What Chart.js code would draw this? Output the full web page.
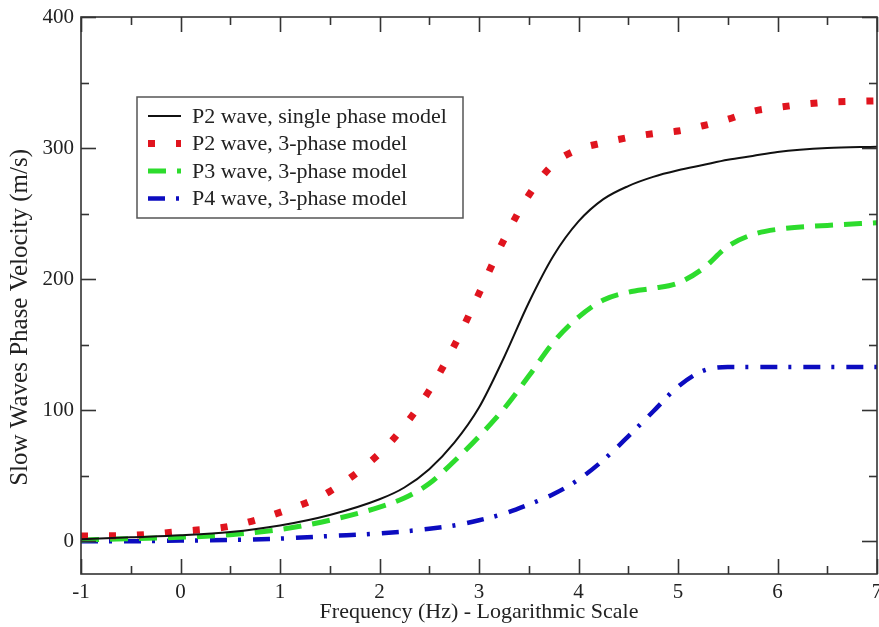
<!DOCTYPE html>
<html>
<head>
<meta charset="utf-8">
<script src="https://cdn.jsdelivr.net/npm/chart.js@4.4.0/dist/chart.umd.min.js"></script>
<style>
  html, body { margin: 0; padding: 0; background: #fff; }
  #wrap { width: 879px; height: 627px; }
</style>
</head>
<body>
<div id="wrap"><canvas id="chartCanvas" width="879" height="627"></canvas></div>
<script>
// frequency grid (log10 Hz) shared by all series
const freq = [-1, -0.5, 0, 0.5, 1, 1.5, 2, 2.25, 2.5, 2.75, 3, 3.25, 3.5, 3.75, 4, 4.25, 4.5, 4.75, 5, 5.25, 5.5, 5.75, 6, 6.5, 7];

// phase velocity (m/s)
const p2Single = [1.5, 3, 4.5, 7, 12, 20, 32, 41, 55, 75, 102, 140, 182, 218, 244, 261, 271, 278, 283, 287, 291, 294, 297, 300, 301];
const p2Three  = [4, 4.5, 7.5, 11.5, 22, 38, 67, 88, 115, 149, 189, 230, 264, 288, 299, 304, 308, 311, 313, 317, 322, 328, 331, 335, 336];
const p3Three  = [1, 2, 3, 5, 9, 16, 26, 33, 44, 61, 80, 101, 126, 152, 171, 184, 190, 193, 197, 208, 225, 234, 238, 241, 243];
const p4Three  = [0, 0, 0.5, 1, 2, 4, 6, 7.5, 9.5, 12, 16, 21, 28, 36, 47, 62, 80, 99, 118, 130, 133, 133, 133, 133, 133];

const seriesNames = ['P2 wave, single phase model', 'P2 wave, 3-phase model', 'P3 wave, 3-phase model', 'P4 wave, 3-phase model'];

function toPoints(vals) {
  return freq.map((f, i) => ({ x: f, y: vals[i] }));
}

const serif = "'Liberation Serif', 'Times New Roman', serif";

// box with inward ticks on all four sides (xmgrace style)
const frameTicks = {
  id: 'frameTicks',
  afterDraw(chart) {
    const { ctx, chartArea: a, scales: { x, y } } = chart;
    ctx.save();
    ctx.strokeStyle = '#333';
    ctx.lineWidth = 1.6;
    const seg = (x1, y1, x2, y2) => {
      ctx.beginPath();
      ctx.moveTo(x1, y1);
      ctx.lineTo(x2, y2);
      ctx.stroke();
    };
    for (let v = x.min; v <= x.max + 1e-9; v += 0.5) {
      const px = Math.round(x.getPixelForValue(v)) + 0.5;
      const len = Number.isInteger(v) ? 15 : 8;
      seg(px, a.bottom, px, a.bottom - len);
      seg(px, a.top, px, a.top + len);
    }
    for (let v = 0; v <= y.max + 1e-9; v += 50) {
      const py = Math.round(y.getPixelForValue(v)) + 0.5;
      const len = v % 100 === 0 ? 15 : 8;
      seg(a.left, py, a.left + len, py);
      seg(a.right, py, a.right - len, py);
    }
    ctx.strokeRect(a.left, a.top, a.right - a.left, a.bottom - a.top);
    ctx.restore();
  }
};

// legend box drawn inside the plot, upper left
const boxLegend = {
  id: 'boxLegend',
  afterDatasetsDraw(chart) {
    const ctx = chart.ctx;
    const bx = 137, by = 97, bw = 326, bh = 121;
    ctx.save();
    ctx.fillStyle = '#fff';
    ctx.fillRect(bx, by, bw, bh);
    ctx.strokeStyle = '#555';
    ctx.lineWidth = 1.5;
    ctx.strokeRect(bx, by, bw, bh);
    ctx.font = '22px ' + serif;
    ctx.textBaseline = 'middle';
    chart.data.datasets.forEach((ds, i) => {
      const ry = 116 + i * 27.5;
      ctx.save();
      ctx.strokeStyle = ds.borderColor;
      ctx.lineWidth = ds.borderWidth;
      ctx.setLineDash(ds.borderDash || []);
      ctx.lineCap = 'butt';
      ctx.beginPath();
      ctx.moveTo(148, ry);
      ctx.lineTo(181, ry);
      ctx.stroke();
      ctx.restore();
      ctx.fillStyle = '#222';
      ctx.fillText(ds.label, 192, ry + 1);
    });
    ctx.restore();
  }
};

const ctx = document.getElementById('chartCanvas').getContext('2d');
const chart = new Chart(ctx, {
  type: 'line',
  data: {
    datasets: [
      {
        label: seriesNames[0],
        data: toPoints(p2Single),
        borderColor: '#111',
        borderWidth: 2,
        cubicInterpolationMode: 'monotone',
        pointRadius: 0
      },
      {
        label: seriesNames[1],
        data: toPoints(p2Three),
        borderColor: '#e0141e',
        borderWidth: 7,
        borderDash: [7, 21],
        borderCapStyle: 'butt',
        cubicInterpolationMode: 'monotone',
        pointRadius: 0
      },
      {
        label: seriesNames[2],
        data: toPoints(p3Three),
        borderColor: '#2ddc2d',
        borderWidth: 5,
        borderDash: [18, 11],
        borderCapStyle: 'butt',
        cubicInterpolationMode: 'monotone',
        pointRadius: 0
      },
      {
        label: seriesNames[3],
        data: toPoints(p4Three),
        borderColor: '#0c0cc0',
        borderWidth: 4.5,
        borderDash: [17, 11, 3, 12],
        borderCapStyle: 'butt',
        cubicInterpolationMode: 'monotone',
        pointRadius: 0
      }
    ]
  },
  options: {
    responsive: false,
    animation: false,
    devicePixelRatio: 1,
    layout: { padding: { left: 0, right: 2, top: 17, bottom: 0 } },
    scales: {
      x: {
        type: 'linear',
        min: -1,
        max: 7,
        grid: { display: false, drawTicks: false },
        border: { display: false },
        ticks: {
          stepSize: 1,
          padding: 6,
          color: '#222',
          font: { family: serif, size: 21 }
        },
        title: {
          display: true,
          text: 'Frequency (Hz) - Logarithmic Scale',
          color: '#222',
          font: { family: serif, size: 22 },
          padding: { top: 0, bottom: 2 }
        },
        afterFit(scale) {
          scale.height = 53;
          scale.paddingLeft = 0;
          scale.paddingRight = 0;
        }
      },
      y: {
        type: 'linear',
        min: -25,
        max: 400,
        grid: { display: false, drawTicks: false },
        border: { display: false },
        ticks: {
          stepSize: 100,
          padding: 7,
          color: '#222',
          font: { family: serif, size: 21 }
        },
        title: {
          display: true,
          // trailing spaces push the rotated title down, as in the original
          text: 'Slow Waves Phase Velocity (m/s)       ',
          color: '#222',
          font: { family: serif, size: 25 },
          padding: { top: 5, bottom: 0 }
        },
        afterBuildTicks(scale) {
          scale.ticks = scale.ticks.filter(t => t.value % 100 === 0);
        },
        afterFit(scale) {
          scale.width = 81;
          scale.paddingTop = 0;
          scale.paddingBottom = 0;
        }
      }
    },
    plugins: {
      legend: { display: false },
      tooltip: { enabled: false }
    }
  },
  plugins: [frameTicks, boxLegend]
});
</script>
</body>
</html>
